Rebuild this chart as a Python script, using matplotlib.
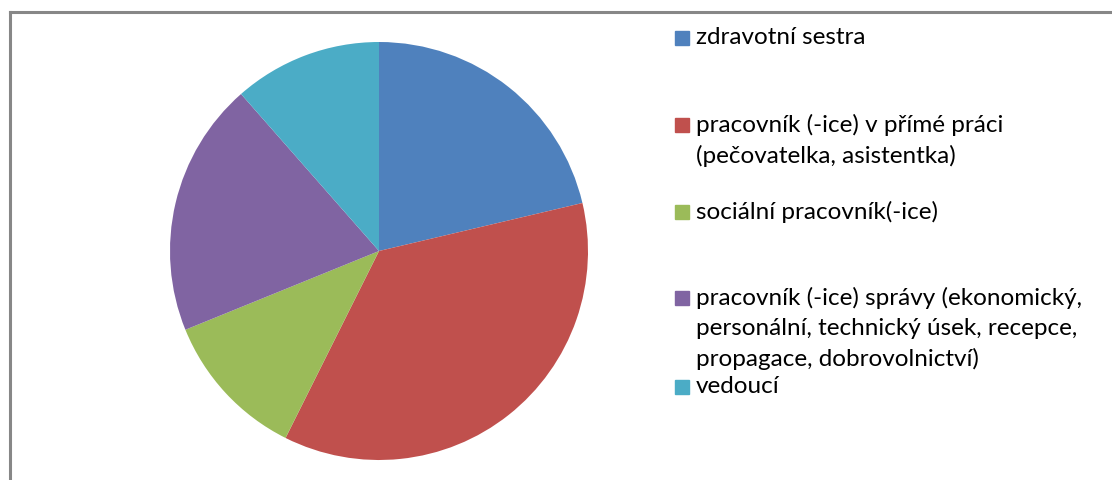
import matplotlib.pyplot as plt
from matplotlib.patches import Rectangle
from matplotlib.lines import Line2D

labels = ["zdravotní sestra",
          "pracovník (-ice) v přímé práci\n(pečovatelka, asistentka)",
          "sociální pracovník(-ice)",
          "pracovník (-ice) správy (ekonomický,\npersonální, technický úsek, recepce,\npropagace, dobrovolnictví)",
          "vedoucí"]
values = [13, 22, 7, 12, 7]
colors = ["#4F81BD", "#C0504D", "#9BBB59", "#8064A2", "#4BACC6"]
legend_y = [38, 125, 212, 298, 387]  # pixel rows of the first text line

W, H = 1112, 480
fig = plt.figure(figsize=(W/100, H/100), dpi=100)
plt.rcParams['font.family'] = ['Lato', 'DejaVu Sans']

# frame (only top and left visible)
fig.add_artist(Line2D([9.5/W, 1], [1-12/H, 1-12/H], color="#878787", lw=2.2, transform=fig.transFigure))
fig.add_artist(Line2D([9.5/W, 9.5/W], [0, 1-12/H], color="#878787", lw=2.2, transform=fig.transFigure))

cx, cy, r = 379, 251, 209
ax = fig.add_axes([(cx-r)/W, (H-cy-r)/H, 2*r/W, 2*r/H])
ax.pie(values, colors=colors, startangle=90, counterclock=False,
       wedgeprops=dict(linewidth=0))
ax.set_xlim(-1, 1)
ax.set_ylim(-1, 1)
ax.set_aspect("equal")

for lab, col, y in zip(labels, colors, legend_y):
    fig.add_artist(Rectangle((675/W, 1-(y+7)/H), 14/W, 14/H, color=col, transform=fig.transFigure))
    fig.text(696/W, 1-(y-11)/H, lab, fontsize=17.5, va="top", ha="left",
             linespacing=1.5, color="black")

plt.savefig("out.png", dpi=100)
